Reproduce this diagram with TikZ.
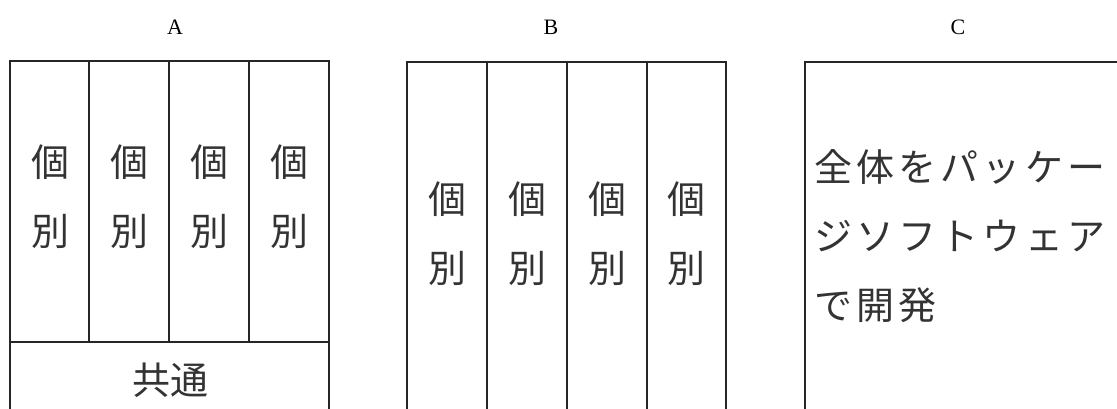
\documentclass[tikz,border=0pt]{standalone}
\usepackage{fontspec}
\setmainfont{Liberation Serif}
\newfontfamily\jp{Noto Sans CJK JP}
\newfontfamily\jpc[LetterSpace=11]{Noto Sans CJK JP}
\begin{document}
\begin{tikzpicture}[x=1pt,y=-1pt,
  box/.style={draw=black!85,line width=2pt},
  lbl/.style={font=\fontsize{22}{24}\selectfont,inner sep=0pt},
  cjk/.style={font=\jp\fontsize{38}{69}\selectfont,inner sep=0pt,text=black!80,align=center},
  cjkl/.style={font=\jpc\fontsize{38}{69}\selectfont,inner sep=0pt,text=black!80,align=left,anchor=west}]
\useasboundingbox (0,0) rectangle (1117,408);
% labels
\node[lbl] (la) at (175,27) {A};
\node[lbl] (lb) at (551,27) {B};
\node[lbl] (lc) at (958,27) {C};
% box A
\draw[box] (10,420) -- (10,61) -- (329,61) -- (329,420);
\foreach \x in {89,169,249} \draw[box] (\x,61) -- (\x,342);
\draw[box] (10,342) -- (329,342);
\foreach \x/\n in {50/a1,129/a2,209/a3,289/a4}
  \node[cjk] (\n) at (\x,197) {個\\別};
\node[cjk] (ac) at (170,380) {共通};
% box B
\draw[box] (407,420) -- (407,62) -- (726,62) -- (726,420);
\foreach \x in {487,567,647} \draw[box] (\x,62) -- (\x,420);
\foreach \x/\n in {447/b1,527/b2,607/b3,686/b4}
  \node[cjk] (\n) at (\x,234) {個\\別};
% box C
\draw[box] (805,420) -- (805,62) -- (1130,62);
\node[cjkl] (ct) at (814,236) {全体をパッケー\\ジソフトウェア\\で開発};
\end{tikzpicture}
\end{document}
